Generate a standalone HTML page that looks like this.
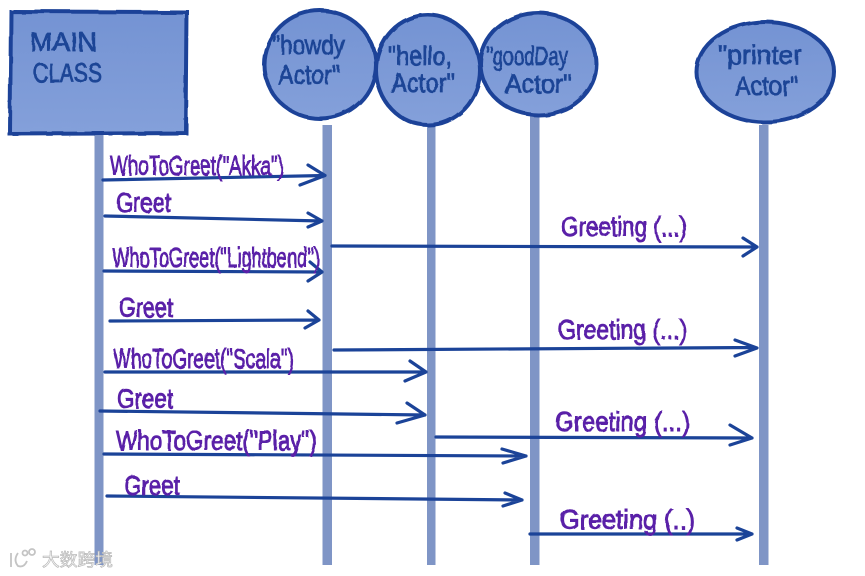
<!DOCTYPE html>
<html><head><meta charset="utf-8"><style>
html,body{margin:0;padding:0;background:#fff;width:865px;height:576px;overflow:hidden}
svg{display:block}
text{font-family:"Liberation Sans","Noto Sans CJK SC",sans-serif}
.p{fill:#5a20a8;stroke:#5a20a8;stroke-width:.9;font-size:28px}
.n{fill:#1c4596;stroke:#1c4596;stroke-width:.8;font-size:27px}
.a{fill:none;stroke:#1b4398;stroke-width:3.200;stroke-linecap:round;stroke-linejoin:round}
.s{stroke:#1b4398;stroke-width:4;fill:url(#g)}
.l{fill:#7f95c6}
</style></head><body>
<svg width="865" height="576" viewBox="0 0 865 576" xmlns="http://www.w3.org/2000/svg">
<defs>
<linearGradient id="g" x1="0" y1="0" x2="0" y2="1"><stop offset="0" stop-color="#7493d3"/><stop offset="1" stop-color="#84a0da"/></linearGradient>
<filter id="w" x="-5%" y="-5%" width="110%" height="110%"><feTurbulence type="fractalNoise" baseFrequency=".04" numOctaves="2" seed="4"/><feDisplacementMap in="SourceGraphic" scale="3"/></filter>
<filter id="t" x="-5%" y="-10%" width="110%" height="120%"><feTurbulence type="fractalNoise" baseFrequency=".09" numOctaves="2" seed="7"/><feDisplacementMap in="SourceGraphic" scale="2.5"/></filter>
</defs>
<rect width="865" height="576" fill="#fff"/>
<g class="l">
<rect x="94.500" y="135" width="9" height="430"/>
<rect x="322.500" y="125" width="9.500" height="440"/>
<rect x="427" y="125" width="8.500" height="440"/>
<rect x="530" y="116" width="9.500" height="449"/>
<rect x="759" y="125" width="9.500" height="440"/>
</g>
<g filter="url(#w)">
<path class="s" d="M11 11.500L187 12L186 133L10 134Z"/>
<ellipse class="s" cx="320" cy="64.500" rx="56" ry="54"/>
<ellipse class="s" cx="428" cy="70" rx="52" ry="55"/>
<ellipse class="s" cx="538.500" cy="64" rx="58" ry="51"/>
<ellipse class="s" cx="765.500" cy="72" rx="69" ry="50"/>
</g>
<g class="a">
<path d="M103 180L325 175.500M308 165L325 175.500L300 185"/>
<path d="M105 216L322 221M308 213L322 221L308 227"/>
<path d="M104 271L322 272M310 262L322 272L308 281"/>
<path d="M332 246L757 247M743 238L757 247L743 256"/>
<path d="M110 321L319 320M308 311L319 320L305 328"/>
<path d="M334 350L755 347.500M735 340L757 348L735 356"/>
<path d="M105 372L426 372M410 361L426 372L405 381"/>
<path d="M100 411L425 415M407 403L425 415L397 423"/>
<path d="M104 454L526 456M502 449L526 456L503 463"/>
<path d="M107 496L522 500M505 493L522 500L503 506"/>
<path d="M436 437L752 438M730 425L752 438L730 445"/>
<path d="M530 534L752 534M737 528L752 534L737 540"/>
</g>
<g filter="url(#t)">
<g class="n">
<text x="30" y="51" textLength="67" lengthAdjust="spacingAndGlyphs">MAIN</text>
<text x="33" y="82" textLength="69" lengthAdjust="spacingAndGlyphs">CLASS</text>
<text x="272" y="54" textLength="73" lengthAdjust="spacingAndGlyphs">"howdy</text>
<text x="278" y="84" textLength="62" lengthAdjust="spacingAndGlyphs">Actor"</text>
<text x="388" y="65" textLength="64" lengthAdjust="spacingAndGlyphs">"hello,</text>
<text x="391" y="92" textLength="64" lengthAdjust="spacingAndGlyphs">Actor"</text>
<text x="486" y="65" textLength="82" lengthAdjust="spacingAndGlyphs">"goodDay</text>
<text x="505" y="93" textLength="67" lengthAdjust="spacingAndGlyphs">Actor"</text>
<text x="718" y="64" textLength="84" lengthAdjust="spacingAndGlyphs">"printer</text>
<text x="735" y="95" textLength="63" lengthAdjust="spacingAndGlyphs">Actor"</text>
</g>
<g class="p">
<text x="110" y="175" textLength="174" lengthAdjust="spacingAndGlyphs">WhoToGreet("Akka")</text>
<text x="116" y="212" textLength="55" lengthAdjust="spacingAndGlyphs">Greet</text>
<text x="112" y="267" textLength="208" lengthAdjust="spacingAndGlyphs">WhoToGreet("Lightbend")</text>
<text x="119" y="317" textLength="54" lengthAdjust="spacingAndGlyphs">Greet</text>
<text x="113" y="368" textLength="181" lengthAdjust="spacingAndGlyphs">WhoToGreet("Scala")</text>
<text x="117" y="408" textLength="56" lengthAdjust="spacingAndGlyphs">Greet</text>
<text x="116" y="450" textLength="201" lengthAdjust="spacingAndGlyphs">WhoToGreet("Play")</text>
<text x="124" y="495" textLength="56" lengthAdjust="spacingAndGlyphs">Greet</text>
<text x="561" y="236" textLength="126" lengthAdjust="spacingAndGlyphs">Greeting (...)</text>
<text x="558" y="339" textLength="129" lengthAdjust="spacingAndGlyphs">Greeting (...)</text>
<text x="555" y="431" textLength="135" lengthAdjust="spacingAndGlyphs">Greeting (...)</text>
<text x="560" y="529" textLength="135" lengthAdjust="spacingAndGlyphs">Greeting (..)</text>
</g>
</g>
<g fill="none" stroke="#c4c4c4" stroke-width="1.800">
<path d="M11 553V567M18 553Q13 560 18 566Q24 568 27 561"/>
<circle cx="25" cy="553" r="2.500"/><circle cx="32" cy="552" r="3"/>
</g>
<text x="42" y="566" font-size="17.500" textLength="71" lengthAdjust="spacingAndGlyphs" fill="#fff" stroke="#b8b8b8" stroke-width=".7">大数跨境</text>
</svg>
</body></html>
